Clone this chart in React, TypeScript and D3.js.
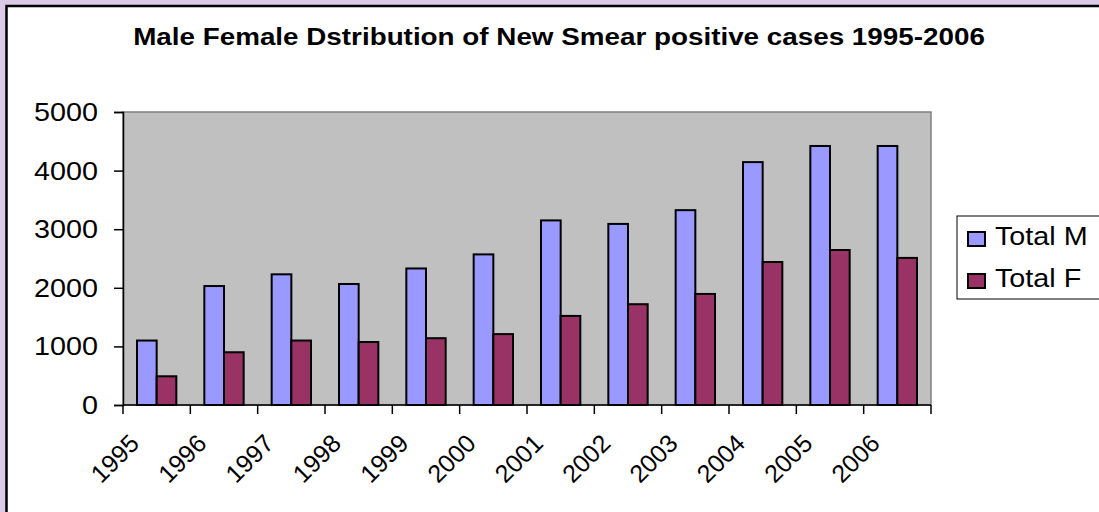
import React, { useEffect, useRef } from 'react';
import * as d3 from 'd3';

// data
const years = ['1995', '1996', '1997', '1998', '1999', '2000', '2001', '2002', '2003', '2004', '2005', '2006'];
const totalM = [1100, 2030, 2230, 2065, 2330, 2570, 3150, 3090, 3325, 4145, 4420, 4420];
const totalF = [490, 900, 1100, 1075, 1140, 1210, 1520, 1720, 1895, 2440, 2645, 2510];
const seriesNames = ['Total M', 'Total F'];
const seriesColors = ['#9999ff', '#993366'];
const yTicks = [0, 1000, 2000, 3000, 4000, 5000];

const App = () => {
  const chartRef = useRef<SVGSVGElement>(null);

  useEffect(() => {
    const width = 1099;
    const height = 512;
    const margin = { top: 112, right: 168, bottom: 107, left: 123 };
    // the original picture is a bit stretched sideways
    const sx = 1.15;

    const svg = d3.select(chartRef.current);
    svg.selectAll('*').remove();

    // page background + white panel
    svg.append('rect').attr('width', width).attr('height', height).attr('fill', '#dccbe8');
    svg
      .append('rect')
      .attr('x', 6.5)
      .attr('y', 6)
      .attr('width', width + 20)
      .attr('height', height + 20)
      .attr('fill', '#ffffff')
      .attr('stroke', '#000')
      .attr('stroke-width', 2.5);

    const font = 'Liberation Sans, Arial, sans-serif';

    // title
    svg
      .append('text')
      .text('Male Female Dstribution of New Smear positive cases 1995-2006')
      .attr('transform', `translate(559,45) scale(${sx},1)`)
      .attr('text-anchor', 'middle')
      .attr('font-family', font)
      .attr('font-size', '24.2px')
      .attr('font-weight', 'bold')
      .attr('fill', '#000');

    const x0 = d3.scaleBand().domain(years).range([margin.left, width - margin.right]);
    const groupPad = 14;
    const x1 = d3
      .scaleBand()
      .domain(seriesNames)
      .range([groupPad, x0.bandwidth() - groupPad]);
    const y = d3.scaleLinear().domain([0, 5000]).range([height - margin.bottom, margin.top]);

    // plot area
    svg
      .append('rect')
      .attr('x', margin.left)
      .attr('y', margin.top)
      .attr('width', width - margin.right - margin.left)
      .attr('height', height - margin.bottom - margin.top)
      .attr('fill', '#c0c0c0')
      .attr('stroke', '#808080')
      .attr('stroke-width', 1.5);

    // bars
    const groups = svg
      .selectAll('g.year')
      .data(years)
      .enter()
      .append('g')
      .attr('class', 'year')
      .attr('transform', (d) => `translate(${x0(d)},0)`);

    groups
      .selectAll('rect')
      .data((d, i) => [
        { key: seriesNames[0], value: totalM[i] },
        { key: seriesNames[1], value: totalF[i] },
      ])
      .enter()
      .append('rect')
      .attr('x', (d) => x1(d.key)!)
      .attr('y', (d) => y(d.value))
      .attr('width', x1.bandwidth())
      .attr('height', (d) => y(0) - y(d.value))
      .attr('fill', (d) => seriesColors[seriesNames.indexOf(d.key)])
      .attr('stroke', '#000')
      .attr('stroke-width', 2);

    // y axis
    const yAxis = d3.axisLeft(y).tickValues(yTicks).tickSize(9).tickFormat(() => '');
    const gy = svg.append('g').attr('transform', `translate(${margin.left},0)`).call(yAxis);
    gy.select('.domain').attr('stroke', '#000').attr('stroke-width', 1.5);
    gy.selectAll('.tick line').attr('stroke', '#000').attr('stroke-width', 1.5);
    svg
      .selectAll('text.ylab')
      .data(yTicks)
      .enter()
      .append('text')
      .attr('class', 'ylab')
      .text((d) => d3.format('d')(d))
      .attr('transform', (d) => `translate(98,${y(d) + 9}) scale(${sx},1)`)
      .attr('text-anchor', 'end')
      .attr('font-family', font)
      .attr('font-size', '25px')
      .attr('fill', '#000');

    // x axis: ticks on category boundaries
    const xAxisLine = svg.append('g');
    xAxisLine
      .append('line')
      .attr('x1', margin.left)
      .attr('x2', width - margin.right)
      .attr('y1', y(0))
      .attr('y2', y(0))
      .attr('stroke', '#000')
      .attr('stroke-width', 1.5);
    const bounds = years.map((d) => x0(d)!).concat([x0(years[years.length - 1])! + x0.bandwidth()]);
    xAxisLine
      .selectAll('line.tk')
      .data(bounds)
      .enter()
      .append('line')
      .attr('class', 'tk')
      .attr('x1', (d) => d)
      .attr('x2', (d) => d)
      .attr('y1', y(0))
      .attr('y2', y(0) + 9)
      .attr('stroke', '#000')
      .attr('stroke-width', 1.5);

    // rotated year labels
    svg
      .selectAll('text.yr')
      .data(years)
      .enter()
      .append('text')
      .attr('class', 'yr')
      .text((d) => d)
      .attr('transform', (d) => `translate(${x0(d)! + x0.bandwidth() / 2 - 16},${y(0) + 40}) rotate(-45)`)
      .attr('text-anchor', 'end')
      .attr('font-family', font)
      .attr('font-size', '25px')
      .attr('fill', '#000');

    // legend
    const legend = svg.append('g');
    legend
      .append('rect')
      .attr('x', 957)
      .attr('y', 216)
      .attr('width', 160)
      .attr('height', 83)
      .attr('fill', '#fff')
      .attr('stroke', '#000')
      .attr('stroke-width', 1);
    const rows = legend
      .selectAll('g.row')
      .data(seriesNames)
      .enter()
      .append('g')
      .attr('class', 'row')
      .attr('transform', (d, i) => `translate(968,${232 + i * 42})`);
    rows
      .append('rect')
      .attr('width', 17)
      .attr('height', 14)
      .attr('fill', (d, i) => seriesColors[i])
      .attr('stroke', '#000')
      .attr('stroke-width', 2);
    rows
      .append('text')
      .text((d) => d)
      .attr('transform', `translate(27,13) scale(${sx},1)`)
      .attr('font-family', font)
      .attr('font-size', '25px')
      .attr('fill', '#000');
  }, []);

  return (
    <svg
      ref={chartRef}
      width={1099}
      height={512}
      style={{ position: 'absolute', left: 0, top: 0, display: 'block' }}
    ></svg>
  );
};

export default App;
